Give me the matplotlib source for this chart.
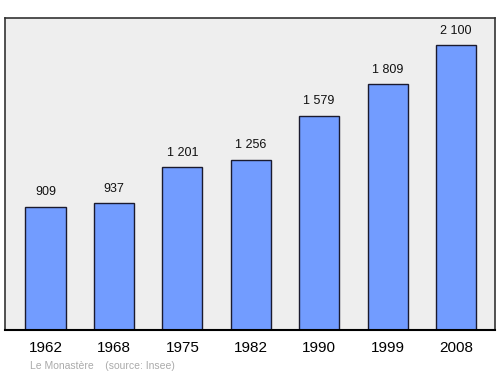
import matplotlib.pyplot as plt

# data
years = ["1962", "1968", "1975", "1982", "1990", "1999", "2008"]
population = [909, 937, 1201, 1256, 1579, 1809, 2100]
value_labels = ["909", "937", "1 201", "1 256", "1 579", "1 809", "2 100"]

plt.rcParams['font.family'] = ['Liberation Sans', 'DejaVu Sans']

fig = plt.figure(figsize=(5, 3.74), dpi=100)
ax = fig.add_axes([0.01, 0.1176, 0.98, 0.8343])
ax.set_facecolor("#eeeeee")

x = list(range(len(years)))
ax.bar(x, population, width=0.585, color="#729cff",
       edgecolor="#1a1a2e", linewidth=1.0, zorder=2)

for xi, v, lab in zip(x, population, value_labels):
    ax.annotate(lab, (xi, v), xytext=(0, 6), textcoords="offset points",
                ha="center", va="bottom", fontsize=9, color="#111111")

ax.set_xlim(-0.592, 6.57)
ax.set_ylim(0, 2299)
ax.set_yticks([])
ax.set_xticks(x)
ax.set_xticklabels(years, fontsize=11)
ax.tick_params(axis="x", length=0, pad=8)

for side in ["top", "left", "right"]:
    ax.spines[side].set_color("#333333")
    ax.spines[side].set_linewidth(1.2)
ax.spines["bottom"].set_color("#000000")
ax.spines["bottom"].set_linewidth(1.5)

fig.text(0.06, 0.008, "Le Monastère    (source: Insee)",
         fontsize=7.5, color="#aaaaaa", ha="left", va="bottom")

fig.savefig("out.png", dpi=100)
